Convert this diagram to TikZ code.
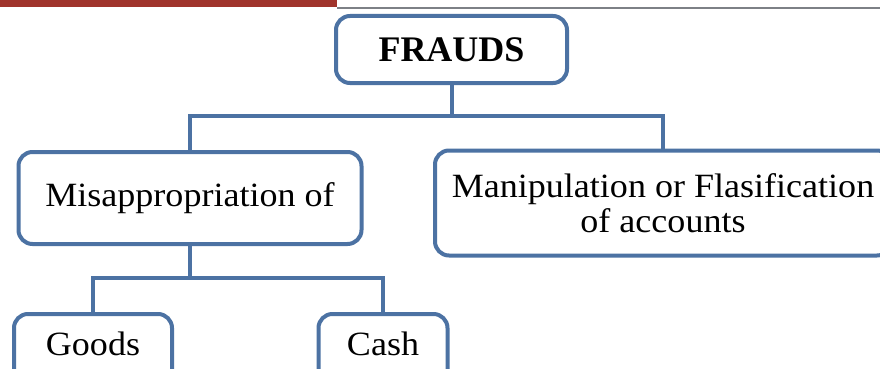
\documentclass[tikz,border=0pt]{standalone}
\usepackage{fontspec}
\setmainfont{Liberation Serif}
\newfontfamily\boxfont[FakeStretch=1.06]{Liberation Serif}
\definecolor{framecol}{RGB}{76,114,163}
\definecolor{barred}{RGB}{160,52,44}
\definecolor{rulegray}{RGB}{125,128,134}
\tikzset{
  x=1pt, y=-1pt,
  box/.style={draw=framecol, line width=4pt, rounded corners=14pt, fill=white,
    inner sep=0pt, font=\boxfont\fontsize{34}{34.5}\selectfont, align=center},
  link/.style={draw=framecol, line width=4pt}
}
\begin{document}
\begin{tikzpicture}
  \useasboundingbox (0,0) rectangle (880,369);
  \clip (0,0) rectangle (880,369);
  \fill[white] (0,0) rectangle (880,369);

  % header band
  \fill[barred] (0,0) rectangle (337,7.5);
  \draw[rulegray, line width=2pt] (337,8.5) -- (880,8.5);

  % boxes
  \node[box, font=\bfseries\fontsize{36}{36}\selectfont, minimum width=231pt, minimum height=67pt]
    (fr) at (451.5,49.5) {FRAUDS};
  \node[box, minimum width=343pt, minimum height=92pt, text height=24pt, text depth=8pt]
    (mis) at (190,198) {Misappropriation of};
  \node[box, minimum width=456pt, minimum height=105pt]
    (man) at (663,203) {Manipulation or Flasification\\of accounts};
  \node[box, anchor=north, minimum width=158pt, text height=24pt, text depth=30pt, inner ysep=17pt]
    (gd) at (93,312) {Goods};
  \node[box, anchor=north, minimum width=129pt, text height=24pt, text depth=30pt, inner ysep=17pt]
    (cs) at (383,312) {Cash};

  % bus points
  \coordinate (bus1) at (452,115.5);
  \coordinate (bus2) at (190,277.5);

  % connectors
  \draw[link] (fr.south) -- (fr.south |- bus1);
  \draw[link] (mis.north) -- (mis.north |- bus1) -- (man.north |- bus1) -- (man.north);
  \draw[link] (mis.south) -- (mis.south |- bus2);
  \draw[link] (gd.north) -- (gd.north |- bus2) -- (cs.north |- bus2) -- (cs.north);
\end{tikzpicture}
\end{document}
